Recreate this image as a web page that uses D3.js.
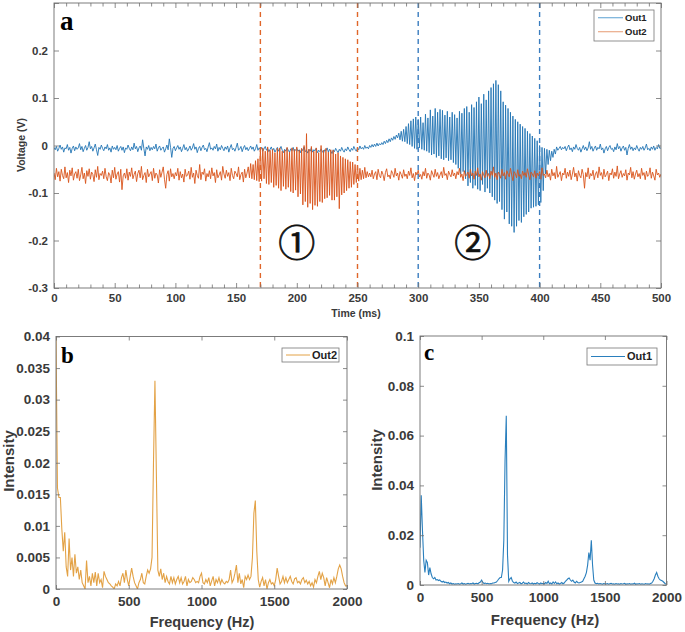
<!DOCTYPE html>
<html><head><meta charset="utf-8">
<script src="https://cdn.jsdelivr.net/npm/d3@7"></script>
<style>
body{margin:0;background:#fff}
text{font-family:Arial,"Liberation Sans",sans-serif;font-weight:bold}
</style></head>
<body><svg id="chart" width="685" height="632"></svg>
<script>
// ---------------- DATA ----------------
const seriesNames = ["Out1", "Out2"];
const timeStepMs = 1; // sample spacing of the voltage traces
// Out1 voltage trace in mV (one value per ms, 0..500 ms)
const out1mV = [
-4,-9,-2,-12,-6,1,-8,-3,-14,-5,
-7,2,-10,-4,-16,-6,-1,-11,-3,-8,
-5,4,-9,-2,-13,-6,0,-10,-4,8,
-7,-2,-12,-5,3,-9,-21,-4,-8,1,
-6,-11,-3,-7,2,-10,-5,-14,-1,-8,
-4,-9,0,-12,-6,-2,-10,-3,-15,-5,
-8,1,-6,-11,-3,-9,5,-7,-2,-13,
-5,-1,-10,12,-6,-22,-3,-8,0,-11,
-4,-9,-2,-7,3,-12,-5,-1,-10,-6,
-3,-14,-7,1,-9,14,-4,-25,-6,-2,
-11,-5,0,-8,-3,-13,-6,2,-9,-4,
-12,-7,-1,-10,-5,4,-8,-3,-15,-6,
-2,-11,-4,1,-9,-6,-13,-3,6,-8,
-5,-10,-2,-7,3,-12,-4,-9,0,-6,
-11,-3,-8,-1,-14,-5,2,-9,-6,-12,
-4,5,-10,-7,-2,-13,-5,0,-9,-4,
-11,-6,-1,-8,-3,-12,-7,2,-10,-5,
-9,-4,-12,-7,-2,-10,-6,-13,-8,-3,
-11,-6,-14,-9,-4,-12,-7,-2,-10,-15,
-8,-12,-5,-10,-14,-7,-11,-4,-13,-9,
-6,-12,-9,-15,-7,-11,-3,-13,-10,-16,
-8,-12,-5,-14,-9,-11,-6,-15,-10,-13,
-7,-12,-16,-9,-11,-5,-14,-8,-12,-17,
-9,-13,-6,-11,-15,-8,-12,-4,-10,-14,
-7,-11,-3,-9,-13,-6,-10,-2,-8,-12,
-5,-9,-1,-7,-4,-8,0,-6,-3,-7,
0,-4,2,-3,3,-2,5,-1,4,1,
6,2,9,4,11,6,14,8,16,11,
19,13,22,16,26,12,30,9,34,8,
40,4,46,2,52,-2,56,-6,60,-8,
55,-5,60,-8,48,-10,66,-12,58,-15,
75,-20,62,-18,78,-25,70,-22,76,-28,
74,-30,64,-26,72,-32,60,-30,70,-36,
65,-40,58,-48,72,-60,68,-55,78,-70,
82,-85,70,-78,86,-90,80,-84,92,-92,
102,-95,88,-82,108,-98,96,-90,115,-100,
122,-108,130,-115,137,-122,128,-118,115,-135,
92,-155,85,-140,78,-165,70,-170,62,-183,
55,-170,50,-158,45,-162,40,-150,36,-145,
30,-140,25,-132,20,-130,15,-128,10,-125,
0,-120,-4,-95,-6,-60,-8,-40,-10,-32,
-12,-25,-8,-18,-3,-10,-6,-2,-9,-4,
-7,-2,-11,-4,1,-9,-5,-13,-3,-8,
2,-6,-10,-4,-14,-7,0,-9,-3,-11,
-5,8,-8,-2,-12,-6,-1,-10,-4,-7,
3,-9,-5,-16,-7,-2,-11,-4,0,-8,
-6,-13,-3,-9,4,-7,-2,-12,-5,-1,
-10,-4,-20,-6,2,-8,-3,-11,-5,-9,
0,-7,-12,-4,-8,-2,-10,-5,3,-9,
-6,-11,-3,-8,-1,-10,-4,-7,2,-6,
-5];
// Out2 voltage trace in mV
const out2mV = [
-58,-72,-48,-66,-55,-75,-50,-63,-70,-45,
-68,-57,-78,-52,-64,-47,-73,-60,-55,-69,
-50,-74,-62,-46,-70,-58,-80,-53,-65,-49,
-71,-56,-61,-76,-51,-67,-44,-72,-59,-63,
-54,-70,-48,-66,-74,-57,-62,-79,-52,-68,
-46,-71,-60,-55,-77,-50,-93,-64,-58,-69,
-49,-73,-56,-65,-47,-70,-61,-54,-76,-59,
-52,-68,-44,-72,-63,-57,-78,-50,-66,-60,
-55,-74,-48,-69,-58,-62,-79,-51,-67,-56,
-45,-71,-90,-61,-53,-75,-49,-66,-59,-70,
-57,-64,-48,-73,-55,-68,-60,-77,-50,-65,
-62,-54,-71,-46,-67,-58,-80,-52,-63,-69,
-40,-72,-56,-61,-49,-75,-59,-66,-53,-70,
-47,-64,-57,-78,-51,-68,-62,-55,-73,-44,
-60,-69,-52,-65,-57,-74,-48,-63,-70,-54,
-59,-66,-45,-72,-61,-56,-77,-50,-68,-58,
-45,-68,-38,-70,-40,-72,-32,-74,-28,-76,
-8,-75,-5,-70,-12,-80,-3,-82,-10,-78,
-8,-88,-15,-84,-6,-90,-5,-95,-12,-86,
-10,-92,-4,-88,-14,-97,-5,-100,-8,-94,
-3,-108,-10,-102,-6,-125,0,-118,25,-130,
-8,-122,-2,-135,-12,-126,-5,-128,-15,-118,
0,-120,-10,-112,-6,-110,-14,-105,-9,-115,
-10,-115,-18,-108,-15,-133,-22,-104,-25,-100,
-28,-95,-30,-90,-34,-88,-35,-82,-40,-78,
-42,-75,-48,-72,-52,-70,-46,-68,-55,-66,
-58,-66,-52,-70,-60,-55,-72,-50,-63,-68,
-54,-61,-74,-57,-49,-66,-62,-70,-53,-59,
-67,-48,-64,-58,-73,-55,-61,-69,-51,-65,
-60,-70,-54,-63,-47,-68,-59,-74,-56,-62,
-52,-66,-61,-71,-55,-64,-48,-69,-58,-62,
-73,-53,-60,-67,-50,-65,-57,-70,-62,-55,
-68,-46,-63,-59,-72,-54,-61,-66,-51,-64,
-58,-70,-55,-62,-48,-67,-60,-74,-53,-65,
-61,-56,-69,-50,-64,-58,-71,-54,-63,-47,
-66,-60,-73,-55,-62,-68,-52,-65,-59,-70,
-54,-63,-45,-67,-58,-72,-56,-61,-69,-50,
-64,-57,-71,-53,-60,-66,-48,-62,-74,-55,
-59,-68,-51,-65,-61,-70,-54,-63,-57,-67,
-49,-62,-72,-56,-60,-66,-53,-69,-58,-64,
-55,-71,-47,-63,-60,-68,-52,-66,-59,-73,
-50,-64,-57,-70,-44,-67,-61,-55,-74,-58,
-62,-48,-69,-56,-65,-52,-72,-60,-46,-66,
-58,-75,-53,-63,-68,-50,-61,-90,-57,-66,
-47,-70,-59,-64,-52,-72,-60,-55,-68,-45,
-63,-57,-71,-50,-66,-61,-54,-74,-58,-62,
-49,-69,-56,-65,-43,-70,-60,-53,-67,-59,
-64,-51,-73,-58,-62,-46,-68,-55,-71,-60,
-52,-66,-59,-70,-48,-63,-57,-72,-54,-65,
-61,-47,-69,-56,-64,-73,-50,-62,-58,-67,
-60];
const regionBoundsMs = [170, 250, 300, 400];
const regionBoundSeries = [1, 1, 0, 0]; // which series colour each dashed line takes
const regionLabels = ["①", "②"];
const regionLabelPos = [[200, -0.2], [345, -0.2]]; // [ms, V]
const timeTicks = [0, 50, 100, 150, 200, 250, 300, 350, 400, 450, 500];
const voltTicks = [-0.3, -0.2, -0.1, 0, 0.1, 0.2, 0.3];
const voltTickLabels = ["-0.3", "-0.2", "-0.1", "0", "0.1", "0.2", ""];

const freqStepHz = 10; // spectra sampled every 10 Hz, 0..2000 Hz
// Out2 spectrum intensity (x 1e-3)
const specOut2 = [
40,16,14.5,14.5,9.5,6,9,3.5,2,8,
3,5,2,5.5,2.5,3.5,1.5,3,1,0.5,
0,4.5,1,2,0.5,2.5,1,2.7,0.5,2.5,
1,1.5,0.2,2.8,2,1.5,1,0.8,0.5,0.3,
0,0.8,0.5,1.2,0.5,1.8,2.5,1,3,1.5,
0.5,2,3.3,2,1,0.5,0,1,1.5,2.5,
1,0.8,2,3,2.5,3.2,5,20,33,18,
3,2,3.2,1.5,2.5,1,2,1.2,0.8,2,
1,1.8,0.8,1.5,2,1,1.8,0.8,1.2,2,
0.5,1.5,1,1.2,1.8,1.5,1,1.2,1,2,
2.5,1,0.8,1.5,1,1.8,0.5,1.3,2,0.5,
1.5,1,1.8,0.8,1.5,1,0.8,1.2,1,1.5,
3,1,1.5,2.5,3.8,1,2.5,0.8,1.5,0.2,
2,1.5,2.2,1.5,2,5,12,14,6,1.5,
0.3,1.2,1.8,0.5,1.5,0,1,1.5,0.8,1,
0.5,1.5,3.3,2,0.8,1.2,2,1,1.8,1,
1.5,2,1.2,0.8,1.6,1.8,1,1.2,0.8,1.5,
1.8,1,1.4,0.8,1.2,0.5,1,0.3,1.5,1,
2,2.8,1.5,2.5,1.8,0.5,1.8,1,0.2,1.5,
0.8,1.8,1,2,3.2,3.8,3.2,2,1,0.5,
0.5];
// Out1 spectrum intensity (x 1e-3)
const specOut1 = [
15,36,22,10,5,10,9,4,7,4.5,
3,2.5,3,2,2.2,1.8,2,1.5,1.2,1.5,
1,1.2,0.8,1,0.5,0.8,0.4,0.6,0.3,0.5,
0.4,0.6,0.3,0.5,0.8,0.4,0.6,0.3,0.5,0.7,
0.4,0.6,0.5,0.8,0.4,0.6,0.7,0.5,0.9,1.2,
2,1,0.6,0.8,0.5,0.7,0.4,0.6,0.5,0.8,
0.8,1,1.2,1.8,2.5,3,3,6,18,50,
68,12,1.5,2.5,3,1.5,1,0.8,1.2,0.6,
0.8,1,0.5,0.7,1.2,0.6,0.8,0.4,1,0.6,
0.5,0.8,0.4,0.7,0.5,0.9,0.6,0.4,0.8,0.5,
0.7,0.5,1,0.6,1.5,0.5,0.8,0.4,1.2,0.6,
1.2,0.5,0.8,0.4,0.6,1,0.5,0.8,1.5,2,
2.5,2.8,2,1.5,2,1.2,0.8,1.5,1,0.8,
1,1.2,1.5,2.5,3.5,5,8,13,10,18,
8,2,0.8,0.5,0.7,0.4,0.6,0.5,0.3,0.6,
0.5,0.4,0.6,0.3,0.5,0.7,0.4,0.5,0.3,0.6,
0.4,0.5,0.3,0.6,0.4,0.5,0.7,0.3,0.5,0.4,
0.6,0.3,0.5,0.4,0.7,0.3,0.5,0.4,0.6,0.3,
0.5,0.4,0.3,0.6,0.4,0.5,0.3,0.6,0.8,1.5,
2.5,4,5,3.5,2.5,2,1.8,1.5,1,0.5,
0.3];
const freqTicks = [0, 500, 1000, 1500, 2000];
const intensTicksB = [0, 0.005, 0.01, 0.015, 0.02, 0.025, 0.03, 0.035, 0.04];
const intensLabelsB = ["0", "0.005", "0.01", "0.015", "0.02", "0.025", "0.03", "0.035", "0.04"];
const intensTicksC = [0, 0.02, 0.04, 0.06, 0.08, 0.1];
const intensLabelsC = ["0", "0.02", "0.04", "0.06", "0.08", "0.1"];

// ---------------- STYLE ----------------
const colOut1 = "#2476b5", colOut2 = "#d9541c";
const colSpecB = "#e3a246", colSpecC = "#2a7fbd";
const axisCol = "#6e6e6e", labelCol = "#3a3a3a";

const svg = d3.select("#chart");
svg.append("rect").attr("width", 685).attr("height", 632).attr("fill", "#fff");
const defs = svg.append("defs");

function frame(g, x, y, o) {
  const [x0, x1] = x.range(), [yb, yt] = y.range();
  const style = sel => {
    sel.select(".domain").remove();
    sel.selectAll("line").attr("stroke", axisCol).attr("stroke-width", 0.8);
    sel.selectAll("text").attr("fill", labelCol).style("font-size", o.fs + "px").style("font-weight", "bold");
  };
  if (o.xMinor) {
    [[d3.axisBottom, yb], [d3.axisTop, yt]].forEach(([ax, py]) => {
      g.append("g").attr("transform", `translate(0,${py})`)
        .call(ax(x).tickValues(o.xMinor).tickFormat("").tickSizeInner(-o.minorLen).tickSizeOuter(0)).call(style);
    });
  }
  g.append("g").attr("transform", `translate(0,${yb})`)
    .call(d3.axisBottom(x).tickValues(o.xt).tickFormat((d, i) => o.xl[i]).tickSizeInner(-o.tl).tickSizeOuter(0).tickPadding(o.xpad)).call(style);
  g.append("g").attr("transform", `translate(0,${yt})`)
    .call(d3.axisTop(x).tickValues(o.xt).tickFormat("").tickSizeInner(-o.tl).tickSizeOuter(0)).call(style);
  g.append("g").attr("transform", `translate(${x0},0)`)
    .call(d3.axisLeft(y).tickValues(o.yt).tickFormat((d, i) => o.yl[i]).tickSizeInner(-o.tl).tickSizeOuter(0).tickPadding(o.ypad)).call(style);
  g.append("g").attr("transform", `translate(${x1},0)`)
    .call(d3.axisRight(y).tickValues(o.yt).tickFormat("").tickSizeInner(-o.tl).tickSizeOuter(0)).call(style);
  g.append("rect").attr("x", x0).attr("y", yt).attr("width", x1 - x0).attr("height", yb - yt)
    .attr("fill", "none").attr("stroke", axisCol).attr("stroke-width", 0.9);
}
function clip(id, x, y) {
  const [x0, x1] = x.range(), [yb, yt] = y.range();
  defs.append("clipPath").attr("id", id).append("rect")
    .attr("x", x0).attr("y", yt).attr("width", x1 - x0).attr("height", yb - yt);
  return `url(#${id})`;
}
function legend(g, x0, y0, w, h, items, fs, lineLen, rowH) {
  g.append("rect").attr("x", x0).attr("y", y0).attr("width", w).attr("height", h)
    .attr("fill", "#fff").attr("stroke", "#777").attr("stroke-width", 0.8);
  items.forEach((it, i) => {
    const cy = y0 + h / (2 * items.length) + i * rowH;
    g.append("line").attr("x1", x0 + 4).attr("x2", x0 + 4 + lineLen).attr("y1", cy).attr("y2", cy)
      .attr("stroke", it.color).attr("stroke-width", 1);
    g.append("text").attr("x", x0 + 6 + lineLen).attr("y", cy).attr("dy", "0.36em")
      .attr("fill", "#222").style("font-size", fs + "px").text(it.name);
  });
}

// ---------------- PANEL a ----------------
const xa = d3.scaleLinear().domain([0, 500]).range([54, 661]);
const ya = d3.scaleLinear().domain([-0.3, 0.3]).range([288, 3]);
const ga = svg.append("g");
const clipA = clip("clipA", xa, ya);
const lineA = d3.line().x((d, i) => xa(i * timeStepMs)).y(d => ya(d / 1000));
ga.append("path").datum(out1mV).attr("d", lineA).attr("fill", "none")
  .attr("stroke", colOut1).attr("stroke-width", 1).attr("stroke-opacity", 0.9).attr("clip-path", clipA);
ga.append("path").datum(out2mV).attr("d", lineA).attr("fill", "none")
  .attr("stroke", colOut2).attr("stroke-width", 1).attr("stroke-opacity", 0.9).attr("clip-path", clipA);
regionBoundsMs.forEach((t, i) => {
  ga.append("line").attr("x1", xa(t)).attr("x2", xa(t)).attr("y1", ya(0.3)).attr("y2", ya(-0.3))
    .attr("stroke", regionBoundSeries[i] === 0 ? "#3a7dbf" : "#e0662a").attr("stroke-width", 1.4)
    .attr("stroke-dasharray", "5,4");
});
regionLabels.forEach((s, i) => {
  ga.append("text").attr("x", xa(regionLabelPos[i][0])).attr("y", ya(regionLabelPos[i][1]))
    .attr("text-anchor", "middle").attr("dominant-baseline", "central")
    .style("font-family", "'Noto Sans CJK JP','Noto Sans CJK SC',sans-serif").style("font-weight", "normal")
    .style("font-size", "37px").attr("fill", "#111").attr("stroke", "#111").attr("stroke-width", 0.7).text(s);
});
frame(ga, xa, ya, {
  xt: timeTicks, xl: timeTicks.map(String), yt: voltTicks, yl: voltTickLabels,
  xMinor: d3.range(0, 501, 10).filter(v => v % 50 !== 0), minorLen: 3.5,
  tl: 5, fs: 11.5, xpad: 6, ypad: 6
});
ga.append("text").attr("x", 356).attr("y", 317).attr("text-anchor", "middle")
  .attr("fill", labelCol).style("font-size", "10.5px").text("Time (ms)");
ga.append("text").attr("transform", "translate(25,145) rotate(-90)").attr("text-anchor", "middle")
  .attr("fill", labelCol).style("font-size", "10.5px").text("Voltage (V)");
ga.append("text").attr("x", 60).attr("y", 30).style("font-family", "'Liberation Serif','Times New Roman',serif")
  .style("font-size", "27px").attr("fill", "#000").text("a");
legend(ga, 594, 10, 60, 31, [{ name: seriesNames[0], color: "#5aa0d2" }, { name: seriesNames[1], color: "#e69a72" }], 9.5, 25, 14);

// ---------------- PANEL b ----------------
const xb = d3.scaleLinear().domain([0, 2000]).range([56, 347]);
const yb = d3.scaleLinear().domain([0, 0.04]).range([589, 336.5]);
const gb = svg.append("g");
const clipB = clip("clipB", xb, yb);
gb.append("path").datum(specOut2)
  .attr("d", d3.line().x((d, i) => xb(i * freqStepHz)).y(d => yb(d / 1000)))
  .attr("fill", "none").attr("stroke", colSpecB).attr("stroke-width", 1.1).attr("clip-path", clipB);
frame(gb, xb, yb, { xt: freqTicks, xl: freqTicks.map(String), yt: intensTicksB, yl: intensLabelsB, tl: 4, fs: 13.5, xpad: 7, ypad: 6 });
gb.append("text").attr("x", 202).attr("y", 627).attr("text-anchor", "middle")
  .attr("fill", labelCol).style("font-size", "14.5px").text("Frequency (Hz)");
gb.append("text").attr("transform", "translate(14,461) rotate(-90)").attr("text-anchor", "middle")
  .attr("fill", labelCol).style("font-size", "15px").text("Intensity");
gb.append("text").attr("x", 61).attr("y", 363).style("font-family", "'Liberation Serif','Times New Roman',serif")
  .style("font-size", "23px").attr("fill", "#000").text("b");
legend(gb, 282, 348, 57, 14, [{ name: seriesNames[1], color: colSpecB }], 11, 24, 14);

// ---------------- PANEL c ----------------
const xc = d3.scaleLinear().domain([0, 2000]).range([420, 666.5]);
const yc = d3.scaleLinear().domain([0, 0.1]).range([585, 336]);
const gc = svg.append("g");
const clipC = clip("clipC", xc, yc);
gc.append("path").datum(specOut1)
  .attr("d", d3.line().x((d, i) => xc(i * freqStepHz)).y(d => yc(d / 1000)))
  .attr("fill", "none").attr("stroke", colSpecC).attr("stroke-width", 1.1).attr("clip-path", clipC);
frame(gc, xc, yc, { xt: freqTicks, xl: freqTicks.map(String), yt: intensTicksC, yl: intensLabelsC, tl: 4, fs: 13.5, xpad: 7, ypad: 6 });
gc.append("text").attr("x", 545).attr("y", 625).attr("text-anchor", "middle")
  .attr("fill", labelCol).style("font-size", "15px").text("Frequency (Hz)");
gc.append("text").attr("transform", "translate(382,460) rotate(-90)").attr("text-anchor", "middle")
  .attr("fill", labelCol).style("font-size", "15px").text("Intensity");
gc.append("text").attr("x", 424).attr("y", 360).style("font-family", "'Liberation Serif','Times New Roman',serif")
  .style("font-size", "23px").attr("fill", "#000").text("c");
legend(gc, 587, 348, 70, 17, [{ name: seriesNames[0], color: colSpecC }], 11, 34, 17);
</script></body></html>
